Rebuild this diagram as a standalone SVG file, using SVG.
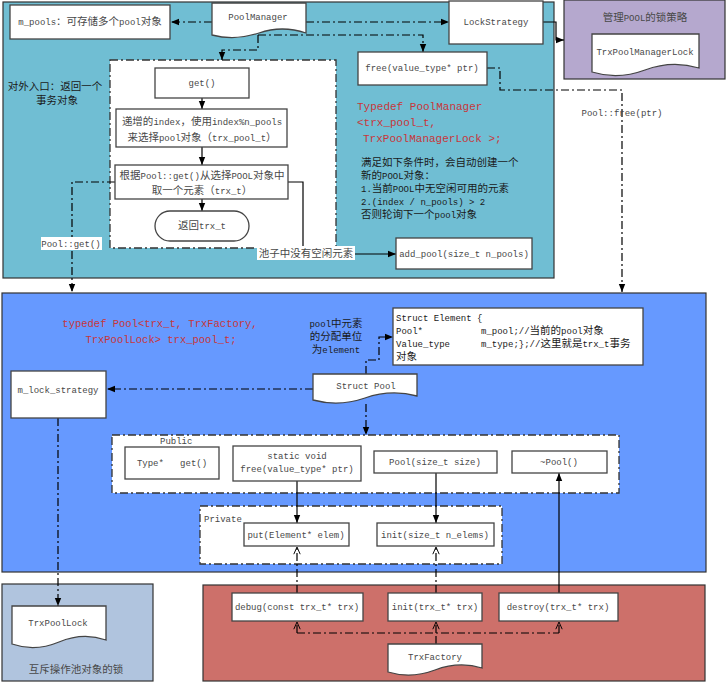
<svg xmlns="http://www.w3.org/2000/svg" width="726" height="683" viewBox="0 0 726 683">
<style>
.t{font-family:"Liberation Mono","Noto Sans CJK SC",monospace;font-size:9px;fill:#484848}
.c{font-size:10.5px}
.r{fill:#C8363A;font-size:11px}
.k{fill:#1a1a1a}
.box{fill:#fff;stroke:#444;stroke-width:1.3}
.pan{stroke:#333;stroke-width:1.2}
.ct{fill:#fff;stroke:#333;stroke-width:1.3;stroke-dasharray:8 3 2 3}
.dd{fill:none;stroke:#000;stroke-width:1.2;stroke-dasharray:8 3 2 3}
.sl{fill:none;stroke:#000;stroke-width:1.2}
</style>
<defs>
<marker id="a" viewBox="0 0 10 10" refX="10" refY="5" markerWidth="8" markerHeight="8" markerUnits="userSpaceOnUse" orient="auto"><path d="M0,1 L10,5 L0,9z" fill="#000"/></marker>
<marker id="o" viewBox="0 0 10 10" refX="10" refY="5" markerWidth="8" markerHeight="8" markerUnits="userSpaceOnUse" orient="auto"><path d="M1,1 L10,5 L1,9" fill="none" stroke="#000" stroke-width="1.2"/></marker>
</defs>

<!-- panels -->
<g id="panels">
<rect class="pan" x="3" y="2" width="551" height="276" fill="#70BED3"/>
<rect class="pan" x="564" y="0" width="161" height="79" fill="#B5A8CE"/>
<rect class="pan" x="2" y="293" width="704" height="279" fill="#6699FF"/>
<rect class="pan" x="2" y="584" width="151" height="97" fill="#B0C4DE"/>
<rect class="pan" x="203" y="585" width="502" height="96" fill="#CD706A"/>
<rect class="ct" x="110" y="60" width="226" height="188"/>
<rect class="ct" x="112" y="435" width="507" height="58"/>
<rect class="ct" x="200" y="506" width="302" height="58"/>
</g>

<!-- connectors -->
<g id="connectors">
<path class="dd" d="M212,22 H171" marker-end="url(#a)"/>
<path class="dd" d="M306,22 H449" marker-end="url(#a)"/>
<path class="sl" d="M543,22 H556 V40 H564" marker-end="url(#a)"/>
<path class="dd" d="M258,35 H423 V52" marker-end="url(#a)"/>
<path class="dd" d="M258,35 V50 H222 V60" marker-end="url(#a)"/>
<path class="sl" d="M202,98 V109" marker-end="url(#a)"/>
<path class="sl" d="M202,147 V165" marker-end="url(#a)"/>
<path class="sl" d="M202,199 V211" marker-end="url(#a)"/>
<path class="sl" d="M288,182 H303 V254 H396" marker-end="url(#a)"/>
<path class="dd" d="M115,182 H72 V292" marker-end="url(#a)"/>
<path class="dd" d="M487,68 H500 V90 H622 V292" marker-end="url(#a)"/>
<path class="dd" d="M366,374 V360 H379 V337 H393" marker-end="url(#a)"/>
<path class="dd" d="M313,389 H107" marker-end="url(#a)"/>
<path class="dd" d="M366,404 V435" marker-end="url(#a)"/>
<path class="dd" d="M58,418 V606" marker-end="url(#a)"/>
<path class="sl" d="M297,481 V523" marker-end="url(#a)"/>
<path class="sl" d="M436,473 V523" marker-end="url(#a)"/>
<path class="sl" d="M559,593 V473" marker-end="url(#a)"/>
<path class="dd" d="M297,593 V547" marker-end="url(#o)"/>
<path class="dd" d="M436,593 V547" marker-end="url(#o)"/>
<path class="dd" d="M436,644 V633"/>
<path class="dd" d="M297,633 H559"/>
<path class="dd" d="M297,633 V622" marker-end="url(#o)"/>
<path class="dd" d="M436,633 V622" marker-end="url(#o)"/>
<path class="dd" d="M559,633 V622" marker-end="url(#o)"/>
<rect x="41" y="237" width="61" height="13" fill="#fff"/>
<text class="t" x="71" y="247" text-anchor="middle">Pool::get()</text>
<rect x="257" y="246" width="98" height="14" fill="#fff"/>
<text class="t" x="306" y="257" text-anchor="middle"><tspan class="c">池子中没有空闲元素</tspan></text>
<text class="t" x="622" y="116" text-anchor="middle">Pool::free(ptr)</text>
</g>

<!-- top panel nodes -->
<g id="m_pools">
<rect class="box" x="10" y="5" width="160" height="34"/>
<text class="t" x="90" y="25" text-anchor="middle">m_pools<tspan class="c">：可存储多个</tspan>pool<tspan class="c">对象</tspan></text>
</g>
<g id="PoolManager">
<path class="box" d="M212,3 H306 V33 Q282,25 259,33 Q235,41 212,35 Z"/>
<text class="t" x="258" y="20" text-anchor="middle">PoolManager</text>
</g>
<g id="LockStrategy">
<rect class="box" x="449" y="1" width="94" height="43"/>
<text class="t" x="496" y="25" text-anchor="middle">LockStrategy</text>
</g>
<g id="TrxPoolManagerLock">
<text class="t" x="645" y="21" text-anchor="middle"><tspan class="c">管理</tspan>POOL<tspan class="c">的锁策略</tspan></text>
<path class="box" d="M592,34 H699 V68 Q672,60 645,70 Q618,80 592,72 Z"/>
<text class="t" x="645" y="55" text-anchor="middle">TrxPoolManagerLock</text>
</g>
<g id="free_ptr">
<rect class="box" x="358" y="52" width="129" height="33"/>
<text class="t" x="422" y="71" text-anchor="middle">free(value_type* ptr)</text>
</g>
<g id="entry_label">
<text class="t k" x="55" y="90" text-anchor="middle"><tspan class="c">对外入口：返回一个</tspan></text>
<text class="t k" x="57" y="104" text-anchor="middle"><tspan class="c">事务对象</tspan></text>
</g>
<g id="get">
<rect class="box" x="155" y="68" width="94" height="30"/>
<text class="t" x="202" y="86" text-anchor="middle">get()</text>
</g>
<g id="select_pool">
<rect class="box" x="116" y="109" width="171" height="38"/>
<text class="t" x="202" y="125" text-anchor="middle"><tspan class="c">递增的</tspan>index<tspan class="c">，使用</tspan>index%n_pools</text>
<text class="t" x="202" y="141" text-anchor="middle"><tspan class="c">来选择</tspan>pool<tspan class="c">对象（</tspan>trx_pool_t<tspan class="c">）</tspan></text>
</g>
<g id="take_elem">
<rect class="box" x="115" y="165" width="173" height="34"/>
<text class="t" x="202" y="179" text-anchor="middle"><tspan class="c">根据</tspan>Pool::get()<tspan class="c">从选择</tspan>POOL<tspan class="c">对象中</tspan></text>
<text class="t" x="202" y="194" text-anchor="middle"><tspan class="c">取一个元素（</tspan>trx_t<tspan class="c">）</tspan></text>
</g>
<g id="return_trx">
<rect class="box" x="155" y="211" width="94" height="30" rx="15"/>
<text class="t" x="202" y="229" text-anchor="middle"><tspan class="c">返回</tspan>trx_t</text>
</g>
<g id="add_pool">
<rect class="box" x="396" y="238" width="136" height="31"/>
<text class="t" x="464" y="257" text-anchor="middle">add_pool(size_t n_pools)</text>
</g>
<g id="typedef_pm">
<text class="t r" x="357" y="110">Typedef PoolManager</text>
<text class="t r" x="357" y="126">&lt;trx_pool_t,</text>
<text class="t r" x="363" y="142">TrxPoolManagerLock &gt;;</text>
</g>
<g id="conditions">
<text class="t k" x="361" y="166"><tspan class="c">满足如下条件时，会自动创建一个</tspan></text>
<text class="t k" x="361" y="179"><tspan class="c">新的</tspan>POOL<tspan class="c">对象：</tspan></text>
<text class="t k" x="361" y="192">1.<tspan class="c">当前</tspan>POOL<tspan class="c">中无空闲可用的元素</tspan></text>
<text class="t k" x="361" y="205">2.(index / n_pools) &gt; 2</text>
<text class="t k" x="361" y="218"><tspan class="c">否则轮询下一个</tspan>pool<tspan class="c">对象</tspan></text>
</g>

<!-- blue panel nodes -->
<g id="typedef_pool">
<text class="t r" x="160" y="327" text-anchor="middle" style="font-size:10.5px">typedef Pool&lt;trx_t, TrxFactory,</text>
<text class="t r" x="161" y="343" text-anchor="middle" style="font-size:10.5px">TrxPoolLock&gt; trx_pool_t;</text>
</g>
<g id="elem_note">
<text class="t k" x="336" y="327" text-anchor="middle">pool<tspan class="c">中元素</tspan></text>
<text class="t k" x="336" y="340" text-anchor="middle"><tspan class="c">的分配单位</tspan></text>
<text class="t k" x="336" y="353" text-anchor="middle"><tspan class="c">为</tspan>element</text>
</g>
<g id="StructElement">
<rect class="box" x="393" y="308" width="250" height="57"/>
<text class="t k" x="396" y="321">Struct Element {</text>
<text class="t k" x="396" y="334">Pool*<tspan x="481">m_pool;//</tspan><tspan class="c">当前的</tspan>pool<tspan class="c">对象</tspan></text>
<text class="t k" x="396" y="347">Value_type<tspan x="481">m_type;};//</tspan><tspan class="c">这里就是</tspan>trx_t<tspan class="c">事务</tspan></text>
<text class="t k" x="396" y="360"><tspan class="c">对象</tspan></text>
</g>
<g id="StructPool">
<path class="box" d="M313,374 H417 V396 Q391,389 365,398 Q339,407 313,400 Z"/>
<text class="t" x="366" y="389" text-anchor="middle">Struct Pool</text>
</g>
<g id="m_lock_strategy">
<rect class="box" x="11" y="371" width="95" height="47"/>
<text class="t" x="58" y="393" text-anchor="middle">m_lock_strategy</text>
</g>
<g id="public">
<text class="t" x="160" y="444">Public</text>
<rect class="box" x="125" y="447" width="94" height="32"/>
<text class="t" x="172" y="466" text-anchor="middle" xml:space="preserve">Type*   get()</text>
<rect class="box" x="233" y="446" width="128" height="35"/>
<text class="t" x="297" y="459" text-anchor="middle">static void</text>
<text class="t" x="297" y="472" text-anchor="middle">free(value_type* ptr)</text>
<rect class="box" x="374" y="451" width="123" height="22"/>
<text class="t" x="435" y="465" text-anchor="middle">Pool(size_t size)</text>
<rect class="box" x="512" y="451" width="95" height="22"/>
<text class="t" x="559" y="465" text-anchor="middle">~Pool()</text>
</g>
<g id="private">
<text class="t" x="204" y="522">Private</text>
<rect class="box" x="244" y="523" width="105" height="23"/>
<text class="t" x="296" y="538" text-anchor="middle">put(Element* elem)</text>
<rect class="box" x="377" y="523" width="117" height="23"/>
<text class="t" x="435" y="538" text-anchor="middle">init(size_t n_elems)</text>
</g>

<!-- bottom -->
<g id="TrxPoolLock">
<path class="box" d="M12,606 H106 V640 Q83,632 59,642 Q35,652 12,644 Z"/>
<text class="t" x="58" y="626" text-anchor="middle">TrxPoolLock</text>
<text class="t" x="76" y="673" text-anchor="middle"><tspan class="c">互斥操作池对象的锁</tspan></text>
</g>
<g id="debug">
<rect class="box" x="232" y="593" width="131" height="28"/>
<text class="t" x="297" y="610" text-anchor="middle">debug(const trx_t* trx)</text>
</g>
<g id="init_trx">
<rect class="box" x="388" y="593" width="94" height="28"/>
<text class="t" x="435" y="610" text-anchor="middle">init(trx_t* trx)</text>
</g>
<g id="destroy_trx">
<rect class="box" x="499" y="593" width="119" height="28"/>
<text class="t" x="558" y="610" text-anchor="middle">destroy(trx_t* trx)</text>
</g>
<g id="TrxFactory">
<path class="box" d="M388,644 H482 V668 Q459,661 435,670 Q411,679 388,672 Z"/>
<text class="t" x="435" y="660" text-anchor="middle">TrxFactory</text>
</g>
</svg>
